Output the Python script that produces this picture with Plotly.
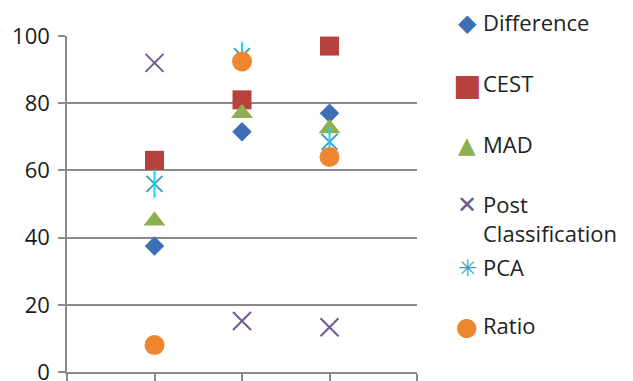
import plotly.graph_objects as go

# Category positions along the x axis (three test cases)
categories = [1, 2, 3]

# Accuracy (%) for each change-detection method
difference = [37.5, 71.5, 77]
cest = [63, 81, 97]
mad = [45, 77, 72.5]
post_classification = [92, 15.2, 13.3]
pca = [56, 94, 68.5]
ratio = [8, 92.4, 64]

y_ticks = [0, 20, 40, 60, 80, 100]

series_names = ["Difference", "CEST", "MAD", "Post<br>Classification", "PCA", "Ratio"]
series_values = [difference, cest, mad, post_classification, pca, ratio]
colors = ["#3C6FB6", "#B8403D", "#8CB04F", "#6E5A93", "#3A9FBF", "#EE8630"]

W, H = 633, 381
L, R, T, B = 67, 216, 36, 9
FONT = "Open Sans"
GRID = "#8a8a8a"

fig = go.Figure()

marker_styles = [
    dict(symbol="diamond", size=15),
    dict(symbol="square", size=19),
    dict(symbol="triangle-up", size=19),
    dict(symbol="x-thin-open", size=18, line=dict(width=2)),
    dict(symbol="x-thin-open", size=16, line=dict(width=2)),
    dict(symbol="circle", size=20),
]

for name, vals, col, ms in zip(series_names, series_values, colors, marker_styles):
    m = dict(ms)
    m["color"] = col
    if "line" in m:
        m["line"] = dict(m["line"], color=col)
    else:
        m["line"] = dict(width=0)
    fig.add_trace(go.Scatter(
        x=categories, y=vals, mode="markers", name=name.replace("<br>", " "),
        marker=m, cliponaxis=False, showlegend=False, hoverinfo="x+y+name",
    ))
    if name == "PCA":
        # vertical stroke completing the six-armed star marker
        fig.add_trace(go.Scatter(
            x=categories, y=vals, mode="markers", showlegend=False,
            marker=dict(symbol="line-ns-open", size=20,
                        line=dict(width=2, color=col)),
            cliponaxis=False, hoverinfo="skip",
        ))

# Legend drawn as text: coloured glyph plus series label
def px_x(px):
    return (px - L) / (W - L - R)

def px_y(py):
    return (H - B - py) / (H - T - B)

glyphs = ["◆", "■", "▲", "✕", "✳", "●"]
glyph_sizes = [24, 30, 23, 24, 23, 25]
legend_rows = [22.5, 84, 144.5, 205, 267.5, 326]

for name, col, g, gs, row in zip(series_names, colors, glyphs, glyph_sizes, legend_rows):
    fig.add_annotation(
        x=px_x(467), y=px_y(row), xref="paper", yref="paper",
        text=g, showarrow=False, xanchor="center", yanchor="middle",
        font=dict(family="DejaVu Sans", size=gs, color=col),
    )
    fig.add_annotation(
        x=px_x(481), y=px_y(row - 18), xref="paper", yref="paper",
        text=name, showarrow=False, xanchor="left", yanchor="top",
        align="left", font=dict(family=FONT, size=22, color="#222222"),
    )

fig.update_layout(
    width=W, height=H,
    margin=dict(l=L, r=R, t=T, b=B, autoexpand=False),
    paper_bgcolor="white", plot_bgcolor="white",
    showlegend=False,
    font=dict(family=FONT, size=22, color="#222222"),
    xaxis=dict(
        range=[0, 4], tickvals=[0, 1, 2, 3, 4], showticklabels=False,
        ticks="outside", ticklen=10, tickwidth=1.5, tickcolor=GRID,
        showline=True, linecolor=GRID, linewidth=1.5, automargin=False,
        showgrid=False, zeroline=False, fixedrange=True,
    ),
    yaxis=dict(
        range=[0, 100], tickvals=y_ticks, ticks="outside", ticklen=7,
        tickwidth=1.5, tickcolor=GRID, automargin=False,
        showline=True, linecolor=GRID, linewidth=1.5,
        showgrid=True, gridcolor=GRID, gridwidth=1.5, zeroline=False,
        tickfont=dict(family=FONT, size=22, color="#1a1a1a"),
        ticklabelstandoff=4, ticklabeloverflow="allow", fixedrange=True,
    ),
)

fig.write_html("out.html")
